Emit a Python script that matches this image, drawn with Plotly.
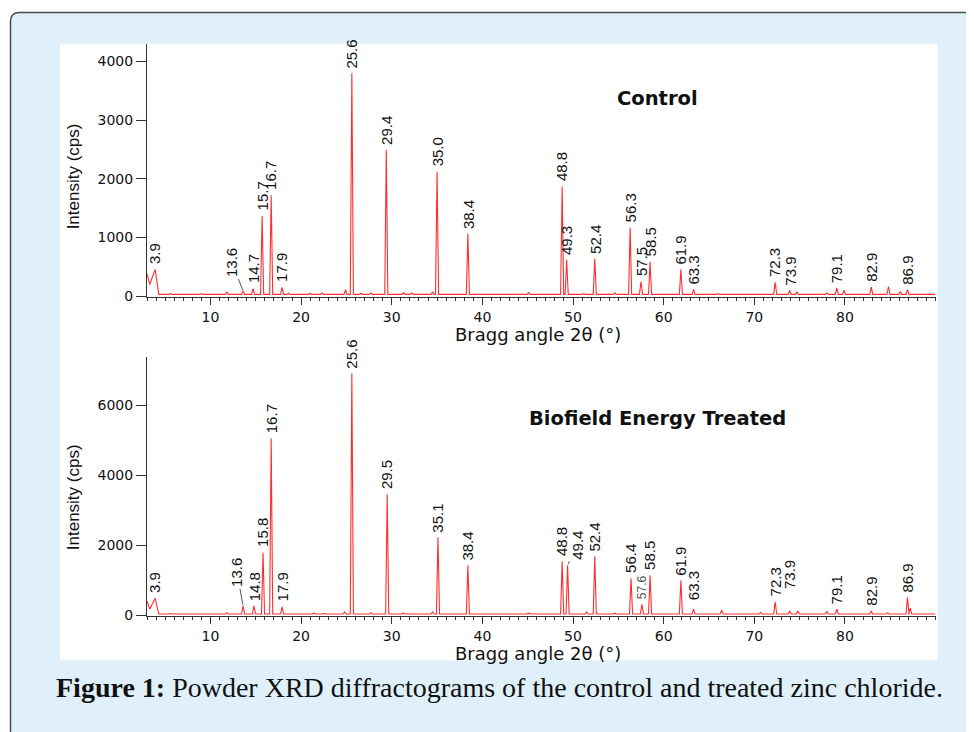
import plotly.graph_objects as go

# ---------------- data ----------------
BASELINE = 30  # cps

# Control: low-angle start of scan (2θ, cps)
ctrl_start_x = [3.0, 3.3, 3.9, 4.3]
ctrl_start_y = [380, 200, 456, 30]
# Control peaks
ctrl_pos = [5.6, 9.0, 11.8, 13.6, 14.7, 15.7, 16.7, 17.9, 18.6, 21.0, 22.3, 24.9, 25.6, 26.6, 27.7,
            29.4, 31.3, 32.2, 34.5, 35.0, 38.4, 45.1, 48.8, 49.3, 51.2, 52.4, 54.6, 56.3, 57.5,
            58.5, 61.9, 63.3, 66.0, 72.3, 73.9, 74.7, 78.0, 79.1, 79.9, 82.9, 84.8, 86.1, 86.9]
ctrl_int = [45, 45, 70, 90, 130, 1370, 1720, 150, 50, 50, 55, 110, 3800, 50, 55,
            2490, 60, 55, 70, 2120, 1065, 60, 1870, 620, 45, 640, 55, 1165, 250,
            585, 460, 115, 45, 236, 96, 70, 55, 140, 100, 155, 165, 80, 110]
ctrl_labels = [3.9, 13.6, 14.7, 15.7, 16.7, 17.9, 25.6, 29.4, 35.0, 38.4, 48.8, 49.3, 52.4,
               56.3, 57.5, 58.5, 61.9, 63.3, 72.3, 73.9, 79.1, 82.9, 86.9]

# Biofield Energy Treated
trt_start_x = [3.0, 3.3, 3.9, 4.3]
trt_start_y = [405, 170, 480, 30]
trt_pos = [5.6, 9.0, 11.8, 13.6, 14.8, 15.8, 16.7, 17.9, 18.6, 21.4, 22.5, 24.8, 25.6, 26.6, 27.7,
           29.5, 31.3, 34.5, 35.1, 38.4, 45.1, 48.8, 49.4, 51.5, 52.4, 54.6, 56.4, 57.6, 58.5,
           61.9, 63.3, 66.4, 70.7, 72.3, 73.9, 74.8, 78.0, 79.1, 82.9, 84.7, 86.9, 87.2]
trt_int = [45, 50, 70, 265, 265, 1790, 5045, 235, 50, 60, 50, 90, 6910, 50, 70,
           3450, 60, 90, 2225, 1425, 60, 1535, 1425, 90, 1680, 55, 1050, 310, 1135,
           990, 170, 140, 80, 380, 120, 120, 110, 170, 120, 70, 500, 200]
trt_labels = [3.9, 13.6, 14.8, 15.8, 16.7, 17.9, 25.6, 29.5, 35.1, 38.4, 48.8, 49.4, 52.4,
              56.4, 57.6, 58.5, 61.9, 63.3, 72.3, 73.9, 79.1, 82.9, 86.9]

X_TICKS = [10, 20, 30, 40, 50, 60, 70, 80]
CTRL_Y_TICKS = [0, 1000, 2000, 3000, 4000]
TRT_Y_TICKS = [0, 2000, 4000, 6000]

# ---------------- geometry helpers (window pixels -> paper) ----------------
# the page body keeps its default 8px margin, so the figure starts at (8, 8)
OFF = 8
W, H = 966, 724
def PX(p): return (p - OFF) / W
def PY(p): return 1 - (p - OFF) / H

HW = 0.17  # peak half width (deg)

def profile(sx, sy, pos, inten):
    xs = list(sx)
    ys = list(sy)
    for p, h in sorted(zip(pos, inten)):
        xs += [p - HW, p, p + HW]
        ys += [BASELINE, h, BASELINE]
    xs.append(90.0)
    ys.append(BASELINE)
    return xs, ys

fig = go.Figure()

cx, cy = profile(ctrl_start_x, ctrl_start_y, ctrl_pos, ctrl_int)
tx, ty = profile(trt_start_x, trt_start_y, trt_pos, trt_int)
RED = "#ff2e2e"
fig.add_trace(go.Scatter(x=cx, y=cy, mode="lines", line=dict(color=RED, width=1.1),
                         xaxis="x", yaxis="y", hoverinfo="skip"))
fig.add_trace(go.Scatter(x=tx, y=ty, mode="lines", line=dict(color=RED, width=1.1),
                         xaxis="x2", yaxis="y2", hoverinfo="skip"))

AX = "#333333"
TICKFONT = dict(family="DejaVu Sans", size=14, color="#111111")
xdom = [PX(147), PX(935.6)]

def xaxis(anchor):
    return dict(domain=xdom, range=[3, 90], anchor=anchor, showline=True, linecolor=AX,
                linewidth=1, ticks="outside", ticklen=7, tickwidth=1, tickcolor=AX,
                tickvals=X_TICKS, showgrid=False, zeroline=False, tickfont=TICKFONT,
                minor=dict(dtick=1, tick0=0, ticks="outside", ticklen=3, tickcolor=AX, tickwidth=1,
                           showgrid=False))

def yaxis(anchor, dom, rng, tv):
    return dict(domain=dom, range=rng, anchor=anchor, showline=True, linecolor=AX, linewidth=1,
                ticks="outside", ticklen=10, tickwidth=1, tickcolor=AX, tickvals=tv,
                showgrid=False, zeroline=False, tickfont=TICKFONT)

fig.update_layout(
    width=W, height=H, margin=dict(l=0, r=0, t=0, b=0),
    paper_bgcolor="white", plot_bgcolor="rgba(0,0,0,0)", showlegend=False,
    xaxis=xaxis("y"),
    yaxis=yaxis("x", [PY(300), PY(44)], [-17, 4304], CTRL_Y_TICKS),
    xaxis2=xaxis("y2"),
    yaxis2=yaxis("x2", [PY(622), PY(360)], [-28, 7387], TRT_Y_TICKS),
)

# ---------------- background frame ----------------
r = 9
x0, y0 = 10.5, 12.5
x1, y1 = 1000, 780
frame = (f"M {PX(x0)},{PY(y1)} L {PX(x0)},{PY(y0 + r)} Q {PX(x0)},{PY(y0)} {PX(x0 + r)},{PY(y0)} "
         f"L {PX(x1)},{PY(y0)} L {PX(x1)},{PY(y1)} Z")
fig.add_shape(type="path", path=frame, xref="paper", yref="paper",
              fillcolor="#dff0fa", line=dict(color="#4a4a4a", width=1.5), layer="below")
fig.add_shape(type="rect", xref="paper", yref="paper", x0=PX(60), x1=PX(937.5),
              y0=PY(666.5), y1=PY(44), fillcolor="white", line=dict(width=0), layer="below")

# ---------------- peak labels ----------------
LABFONT = dict(family="Liberation Sans Narrow, Liberation Sans", size=15, color="#111111")

def add_labels(labels, sx, sy, pos, inten, xa, ya, special):
    lookup = dict(zip(pos, inten))
    lookup.update({3.9: max(sy)})
    for lab in labels:
        h = lookup[lab]
        txt = f"{lab:.1f}"
        sp = special.get(lab, {})
        font = dict(LABFONT)
        font.update(sp.get("font", {}))
        if "arrow" in sp:
            axp, ayp = sp["arrow"]
            fig.add_annotation(x=lab, y=h, xref=xa, yref=ya, text=txt, textangle=-90,
                               showarrow=True, arrowhead=0, arrowwidth=1, arrowcolor="#555555",
                               ax=axp, ay=ayp, standoff=1, font=font)
        else:
            fig.add_annotation(x=lab, y=h, xref=xa, yref=ya, text=txt, textangle=-90,
                               showarrow=False, yanchor="bottom", xanchor="center",
                               yshift=sp.get("yshift", 3), font=font)

add_labels(ctrl_labels, ctrl_start_x, ctrl_start_y, ctrl_pos, ctrl_int, "x", "y",
           {13.6: {"arrow": (-11, -28)}})
add_labels(trt_labels, trt_start_x, trt_start_y, trt_pos, trt_int, "x2", "y2",
           {13.6: {"arrow": (-6, -33)}, 49.4: {"arrow": (10, -20)},
            73.9: {"yshift": 20}, 63.3: {"yshift": 7},
            57.6: {"font": {"size": 12, "color": "#555555"}}})

# ---------------- titles ----------------
def text_at(px, py, txt, font, angle=0):
    fig.add_annotation(x=PX(px), y=PY(py), xref="paper", yref="paper", text=txt,
                       showarrow=False, xanchor="center", yanchor="middle",
                       textangle=angle, font=font)

TITLEFONT = dict(family="DejaVu Sans", size=18, color="#111111")
for yc in (337.5, 659.5):
    text_at(538, yc, "Bragg angle 2θ (°)", TITLEFONT)
for yc in (178, 502):
    text_at(73, yc, "Intensity (cps)", dict(family="Liberation Sans", size=17, color="#111111"), -90)

BOLD = dict(family="DejaVu Sans", size=19.5, color="#111111")
text_at(657, 99, "<b>Control</b>", BOLD)
text_at(657, 423, "<b>Biofield Energy Treated</b>", BOLD)

text_at(500, 694,
        "<b>Figure 1:</b> Powder XRD diffractograms of the control and treated zinc chloride.",
        dict(family="Liberation Serif", size=28, color="#111111"))

fig.write_html("out.html")
